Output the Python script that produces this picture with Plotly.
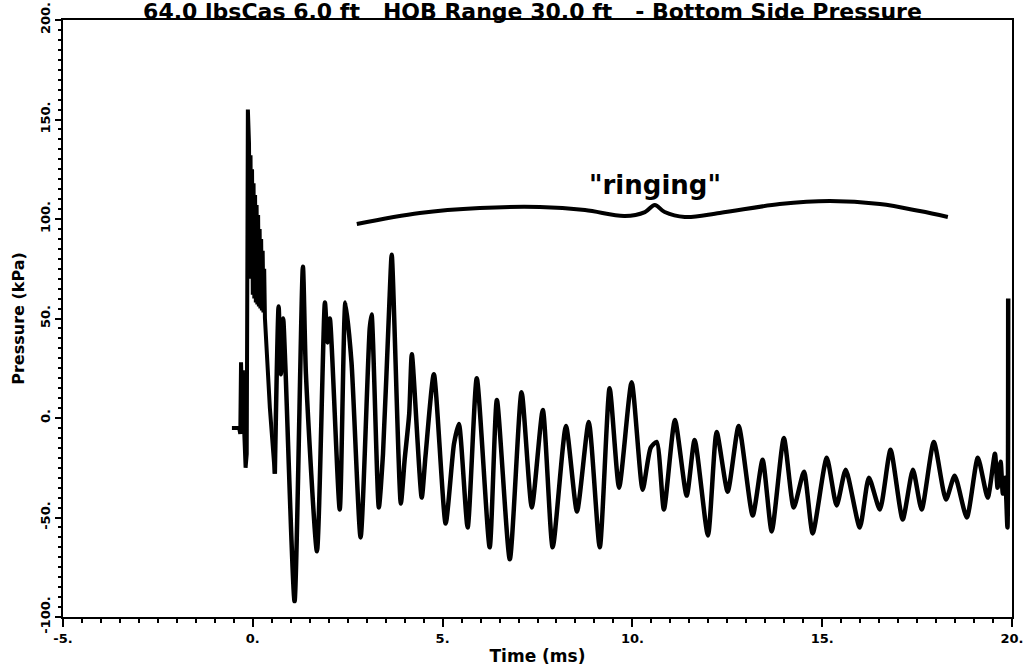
import plotly.graph_objects as go

# ---- data (time in ms, pressure in kPa) ----
time_ms = [
    -0.55, -0.36, -0.33, -0.31, -0.28, -0.26, -0.23, -0.19, -0.16, -0.13,
    -0.10, -0.08, -0.06, -0.04, -0.02, 0.00, 0.02, 0.04, 0.06, 0.08, 0.10, 0.12,
    0.14, 0.16, 0.18, 0.20, 0.22, 0.24, 0.26, 0.28, 0.30, 0.32,
    0.45, 0.58,
    0.68, 0.74, 0.80, 0.86,
    1.10,
    1.32, 1.40,
    1.69,
    1.90, 1.97, 2.03,
    2.29,
    2.44, 2.60,
    2.84,
    3.08, 3.13,
    3.32, 3.43,
    3.60, 3.66,
    3.90, 4.00,
    4.12, 4.19,
    4.45, 4.55,
    4.77,
    5.08,
    5.30, 5.43,
    5.66,
    5.90,
    6.24, 6.43, 6.77, 7.08, 7.35, 7.64, 7.90, 8.25, 8.54, 8.85, 9.14, 9.40, 9.65, 9.98, 10.27,
    10.48, 10.64,
    10.83, 11.12, 11.43, 11.64, 11.99, 12.22, 12.51, 12.80, 13.17, 13.43, 13.67, 13.99,
    14.25, 14.52, 14.75, 15.12, 15.38, 15.62, 15.99, 16.23, 16.52, 16.80, 17.12, 17.39,
    17.62, 17.94, 18.26, 18.49, 18.81, 19.10, 19.36,
    19.55, 19.62, 19.70, 19.76, 19.82, 19.88, 19.90,
]
pressure_kpa = [
    -5, -5, -8, 28, 5, 24, -5, -25, -18, 155,
    138, 84, 132, 70, 125, 62, 118, 60, 112, 58, 107, 57,
    102, 56, 95, 55, 90, 54, 84, 53, 75, 50,
    5, -28,
    56, 22, 50, 25,
    -92,
    76, 22,
    -67,
    58, 38, 50,
    -46,
    58, 28,
    -60,
    45, 52,
    -45, -18,
    59, 82,
    -43, -21,
    2, 32,
    -40, -19,
    22,
    -53,
    -13, -3,
    -55,
    20,
    -65, 9, -71, 13, -45, 4, -65, -4, -47, -2, -65, 15, -35, 18, -36,
    -15, -12,
    -46, -1, -39, -11, -59, -7, -37, -4, -49, -21, -57, -10,
    -45, -27, -58, -20, -44, -26, -55, -30, -46, -16, -51, -26,
    -46, -12, -41, -29, -50, -20, -40,
    -18, -35, -22, -38, -30, -55, 60,
]

x_tick_vals = [-5, 0, 5, 10, 15, 20]
x_tick_text = ["-5.", "0.", "5.", "10.", "15.", "20."]
y_tick_vals = [-100, -50, 0, 50, 100, 150, 200]
y_tick_text = ["-100.", "-50.", "0.", "50.", "100.", "150.", "200."]

title_text = "64.0 lbsCas 6.0 ft   HOB Range 30.0 ft   - Bottom Side Pressure"
x_title = "Time (ms)"
y_title = "Pressure (kPa)"
ringing_label = '"ringing"'

# brace annotation geometry (data coords)
brace_t = [2.74, 4.4, 5.98, 7.56, 8.75, 9.8, 10.33, 10.59, 10.85, 11.38, 12.3, 13.88, 15.2, 16.52, 17.57, 18.31]
brace_p = [97.5, 103, 105.5, 106, 104.5, 101.5, 103.5, 107, 103.5, 101, 103, 107.5, 109, 107.5, 104, 101]

FONT = "DejaVu Sans"

# the impulsive onset is drawn with straight segments, the ringing with a smooth curve
split = time_ms.index(0.58) + 1

fig = go.Figure()
fig.add_trace(go.Scatter(
    x=time_ms[:split], y=pressure_kpa[:split], mode="lines",
    line=dict(color="black", width=4, shape="linear"),
    hoverinfo="skip", showlegend=False,
))
fig.add_trace(go.Scatter(
    x=time_ms[split - 1:], y=pressure_kpa[split - 1:], mode="lines",
    line=dict(color="black", width=4.5, shape="spline", smoothing=0.6),
    hoverinfo="skip", showlegend=False,
))
fig.add_trace(go.Scatter(
    x=brace_t, y=brace_p, mode="lines",
    line=dict(color="black", width=4, shape="spline", smoothing=1.0),
    hoverinfo="skip", showlegend=False,
))

fig.add_annotation(
    x=10.59, y=117, text="<b>" + ringing_label + "</b>", showarrow=False,
    font=dict(family=FONT, size=26, color="black"),
)

fig.update_layout(
    width=1024, height=669,
    paper_bgcolor="white", plot_bgcolor="white",
    margin=dict(l=63, r=12, t=20, b=52, autoexpand=False),
    title=dict(
        text="<b>" + title_text + "</b>", x=0.52, xanchor="center",
        yref="container", y=0.9825, yanchor="middle", pad=dict(t=0, b=0),
        font=dict(family=FONT, size=22, color="black"),
    ),
    font=dict(family=FONT, color="black"),
)

fig.update_xaxes(
    range=[-5, 20], showgrid=False, zeroline=False, automargin=False,
    showline=True, linecolor="black", linewidth=2, mirror=True,
    ticks="outside", ticklen=8, tickwidth=2, tickcolor="black",
    tickvals=x_tick_vals, ticktext=x_tick_text,
    tickfont=dict(family=FONT, size=13, color="black", weight="bold"),
    minor=dict(dtick=0.5, ticks="outside", ticklen=4, tickwidth=1.5, tickcolor="black", showgrid=False),
    title=dict(text="<b>" + x_title + "</b>", font=dict(family=FONT, size=17, color="black"), standoff=6),
)
fig.update_yaxes(
    range=[-100, 200], showgrid=False, zeroline=False, automargin=False,
    showline=True, linecolor="black", linewidth=2, mirror=True,
    ticks="outside", ticklen=6, tickwidth=2, tickcolor="black",
    tickvals=y_tick_vals, ticktext=y_tick_text, tickangle=-90,
    tickfont=dict(family=FONT, size=13, color="black", weight="bold"),
    minor=dict(dtick=5, ticks="outside", ticklen=3, tickwidth=1.5, tickcolor="black", showgrid=False),
    title=dict(text="<b>" + y_title + "</b>", font=dict(family=FONT, size=16, color="black"), standoff=9),
)

fig.write_html(
    "out.html",
    config={"displayModeBar": False},
    post_script="document.body.style.margin='0';",
)
